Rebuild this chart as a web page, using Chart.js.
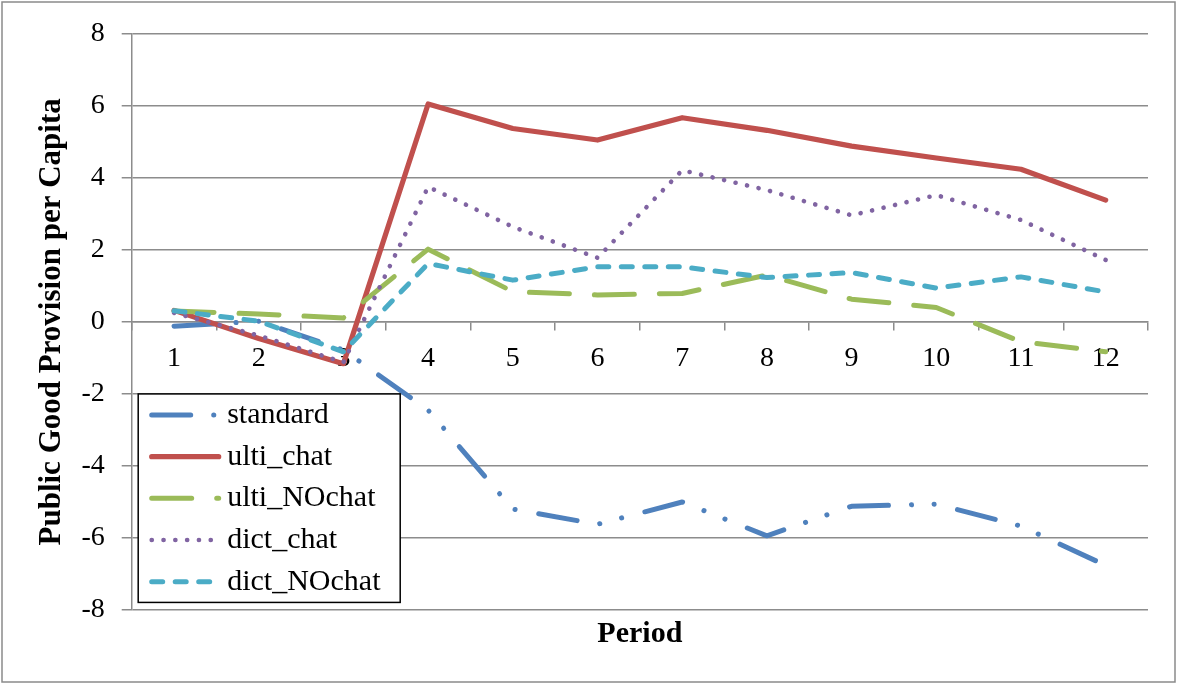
<!DOCTYPE html>
<html>
<head>
<meta charset="utf-8">
<title>Public Good Provision per Capita</title>
<script src="https://cdn.jsdelivr.net/npm/chart.js@4.4.1/dist/chart.umd.min.js"></script>
<style>
    html, body { margin: 0; padding: 0; background: #fff; }
    #wrap { position: relative; width: 1177px; height: 684px; }
</style>
</head>
<body>
<div id="wrap"><canvas id="chart"></canvas></div>
<script>
// Data
const periods = ['1', '2', '3', '4', '5', '6', '7', '8', '9', '10', '11', '12'];
const standard   = [-0.12, 0.02, -0.78, -2.45, -5.20, -5.62, -5.00, -5.94, -5.12, -5.06, -5.67, -6.76];
const ultiChat   = [0.32, -0.46, -1.16, 6.05, 5.37, 5.05, 5.67, 5.32, 4.88, 4.55, 4.24, 3.38];
const ultiNoChat = [0.30, 0.22, 0.11, 2.02, 0.84, 0.75, 0.79, 1.30, 0.63, 0.40, -0.55, -0.83];
const dictChat   = [0.25, -0.38, -1.12, 3.75, 2.64, 1.78, 4.21, 3.66, 2.96, 3.52, 2.83, 1.72];
const dictNoChat = [0.31, 0.02, -0.83, 1.62, 1.16, 1.53, 1.53, 1.23, 1.37, 0.94, 1.25, 0.83];
const yMin = -8, yMax = 8, yStep = 2;

const FONT = '"Liberation Serif", "Times New Roman", serif';
const GRID = '#8c8c8c';

// Outer frame of the picture + x axis title under the plot
const framePlugin = {
    id: 'frame',
    beforeDraw(chart) {
        const ctx = chart.ctx;
        ctx.save();
        ctx.fillStyle = '#fff';
        ctx.fillRect(0, 0, chart.width, chart.height);
        ctx.strokeStyle = '#8a8a8a';
        ctx.lineWidth = 1.5;
        ctx.strokeRect(2, 2, chart.width - 4, chart.height - 4);
        ctx.restore();
    },
    afterDraw(chart) {
        const ctx = chart.ctx;
        const area = chart.chartArea;
        ctx.save();
        ctx.fillStyle = '#000';
        ctx.font = 'bold 30px ' + FONT;
        ctx.textAlign = 'center';
        ctx.textBaseline = 'alphabetic';
        ctx.fillText('Period', (area.left + area.right) / 2, area.bottom + 32);
        ctx.restore();
    }
};

// Legend box drawn inside the plot, bottom left
const boxLegend = {
    id: 'boxLegend',
    afterDatasetsDraw(chart) {
        const ctx = chart.ctx;
        const area = chart.chartArea;
        const left = area.left + 6.5;
        const top = chart.scales.y.getPixelForValue(-2);
        const w = 262, h = 208.5;
        ctx.save();
        ctx.fillStyle = '#fff';
        ctx.fillRect(left, top, w, h);
        ctx.strokeStyle = '#000';
        ctx.lineWidth = 1.5;
        ctx.strokeRect(left, top, w, h);

        chart.data.datasets.forEach((ds, i) => {
            const cy = top + 21 + i * 41.7;
            ctx.beginPath();
            ctx.setLineDash(ds.borderDash || []);
            ctx.lineDashOffset = 0;
            ctx.lineCap = 'round';
            ctx.strokeStyle = ds.borderColor;
            ctx.lineWidth = ds.borderWidth;
            ctx.moveTo(left + 13.5, cy);
            ctx.lineTo(left + 80.5, cy);
            ctx.stroke();
            ctx.setLineDash([]);
            ctx.fillStyle = '#000';
            ctx.font = '30px ' + FONT;
            ctx.textBaseline = 'middle';
            ctx.textAlign = 'left';
            ctx.fillText(ds.label, left + 89, cy);
        });
        ctx.restore();
    }
};

function line(label, data, color, width, dash, order) {
    return {
        label: label,
        data: data,
        borderColor: color,
        backgroundColor: color,
        borderWidth: width,
        borderDash: dash,
        borderCapStyle: 'round',
        borderJoinStyle: 'round',
        pointRadius: 0,
        tension: 0,
        fill: false,
        order: order
    };
}

new Chart(document.getElementById('chart'), {
    type: 'line',
    data: {
        labels: periods,
        datasets: [
            line('standard', standard, '#4F81BD', 5, [39, 23, 0.1, 22.5, 0.1, 24], 5),
            line('ulti_chat', ultiChat, '#C0504D', 5.2, [], 4),
            line('ulti_NOchat', ultiNoChat, '#9BBB59', 5, [40, 25], 3),
            line('dict_chat', dictChat, '#8064A2', 4.6, [0.1, 11.7], 2),
            line('dict_NOchat', dictNoChat, '#4BACC6', 5, [11, 12.5], 1)
        ]
    },
    options: {
        responsive: true,
        maintainAspectRatio: false,
        animation: false,
        layout: {
            padding: { top: 33, right: 29, bottom: 74, left: 0 }
        },
        plugins: {
            legend: { display: false },
            tooltip: { enabled: false },
            title: { display: false }
        },
        scales: {
            x: {
                position: { y: 0 },
                offset: true,
                grid: {
                    offset: true,
                    drawOnChartArea: false,
                    drawTicks: true,
                    tickLength: 8,
                    color: GRID,
                    lineWidth: 1.5
                },
                border: { display: true, color: GRID, width: 1.5 },
                ticks: {
                    color: '#000',
                    font: { family: FONT, size: 28 },
                    padding: 12,
                    maxRotation: 0,
                    autoSkip: false
                },
                afterFit: function(scale) { scale.height = 0; }
            },
            y: {
                min: yMin,
                max: yMax,
                grid: {
                    color: GRID,
                    lineWidth: 1.5,
                    drawTicks: true,
                    tickLength: 10
                },
                border: { display: true, color: GRID, width: 1.5 },
                ticks: {
                    stepSize: yStep,
                    color: '#000',
                    font: { family: FONT, size: 28 },
                    padding: 17
                },
                title: {
                    display: true,
                    text: 'Public Good Provision per Capita',
                    color: '#000',
                    font: { family: FONT, size: 31, weight: 'bold' },
                    padding: { top: 33, bottom: 0 }
                },
                afterFit: function(scale) { scale.width = 131.7; }
            }
        }
    },
    plugins: [framePlugin, boxLegend]
});
</script>
</body>
</html>
